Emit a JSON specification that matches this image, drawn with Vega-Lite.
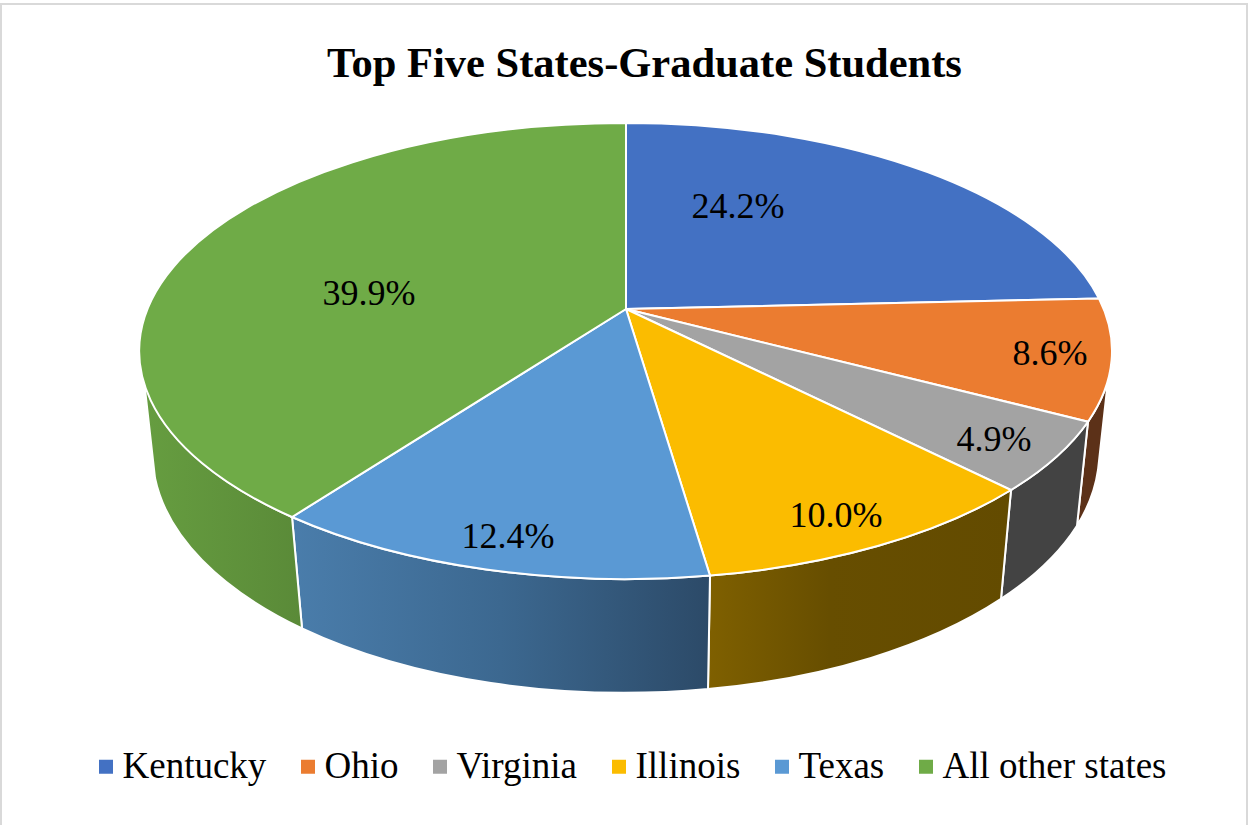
{
"$schema":"https://vega.github.io/schema/vega-lite/v6.json",
"width":1249,"height":825,"padding":0,"autosize":{"type":"none"},"background":"white",
"title":{"text":"Top Five States-Graduate Students","font":"Liberation Serif","fontSize":42.5,"fontWeight":"bold","color":"black","anchor":"middle","dx":20,"dy":89},
"config":{"view":{"stroke":null}},
"data":{"values":[
{"state":"Kentucky","share":0.242},
{"state":"Ohio","share":0.086},
{"state":"Virginia","share":0.049},
{"state":"Illinois","share":0.1},
{"state":"Texas","share":0.124},
{"state":"All other states","share":0.399}]},
"layer":[
{"data":{"values":[{"element":"chart area"}]},
 "mark":{"type":"point","filled":false,"size":4,"stroke":"#d9d9d9","strokeWidth":2,"opacity":1},
 "encoding":{"shape":{"value":"M-623.5,420 L-623.5,-408.5 L622.5,-408.5 L622.5,420"}}},
{"transform":[{"filter":"datum.state==='Ohio'"}],
 "mark":{"type":"point","filled":true,"size":4,"fill":"#5c3118","stroke":"white","strokeWidth":2,"opacity":1},
 "encoding":{"shape":{"value":"M483.5,-32.5 A486,228 0 0 1 463.5,9.2 L452.5,113.2 A474,241 0 0 0 473.5,57.5 Z"}}},
{"transform":[{"filter":"datum.state==='Virginia'"}],
 "mark":{"type":"point","filled":true,"size":4,"fill":"#434343","stroke":"white","strokeWidth":2,"opacity":1},
 "encoding":{"shape":{"value":"M463.5,9.2 A486,228 0 0 1 386.5,77.5 L376.5,186.4 A474,241 0 0 0 452.5,113.2 Z"}}},
{"transform":[{"filter":"datum.state==='Illinois'"}],
 "mark":{"type":"point","filled":true,"size":4,"stroke":"white","strokeWidth":2,"opacity":1,
  "fill":{"x1":0,"y1":0,"x2":1,"y2":0,"gradient":"linear","stops":[{"offset":0,"color":"#7f6000"},{"offset":0.4,"color":"#674e00"},{"offset":1,"color":"#634b00"}]}},
 "encoding":{"shape":{"value":"M386.5,77.5 A486,228 0 0 1 85.5,163.1 L83.5,276.5 A474,241 0 0 0 376.5,186.4 Z"}}},
{"transform":[{"filter":"datum.state==='Texas'"}],
 "mark":{"type":"point","filled":true,"size":4,"stroke":"white","strokeWidth":2,"opacity":1,
  "fill":{"x1":0,"y1":0,"x2":1,"y2":0,"gradient":"linear","stops":[{"offset":0,"color":"#4a7dab"},{"offset":0.5,"color":"#3c6890"},{"offset":1,"color":"#2c4a68"}]}},
 "encoding":{"shape":{"value":"M85.5,163.1 A486,228 0 0 1 -332.5,104.5 L-322.5,215.9 A474,241 0 0 0 83.5,276.5 Z"}}},
{"transform":[{"filter":"datum.state==='All other states'"}],
 "mark":{"type":"point","filled":true,"size":4,"stroke":"white","strokeWidth":2,"opacity":1,
  "fill":{"x1":0,"y1":0,"x2":1,"y2":0,"gradient":"linear","stops":[{"offset":0,"color":"#669d40"},{"offset":1,"color":"#5a8a38"}]}},
 "encoding":{"shape":{"value":"M-332.5,104.5 A486,228 0 0 1 -480.5,-32.5 L-469.5,65.5 A474,241 0 0 0 -322.5,215.9 Z"}}},
{"mark":{"type":"point","filled":true,"size":4,"stroke":"white","strokeWidth":2,"opacity":1},
 "encoding":{
  "color":{"field":"state","type":"nominal","legend":null},
  "shape":{"field":"state","type":"nominal","legend":null,
   "scale":{"domain":["Kentucky","Ohio","Virginia","Illinois","Texas","All other states"],
    "range":[
     "M1.5,-103.5 L1.5,-289.5 A486,228 0 0 1 474.5,-114 Z",
     "M1.5,-103.5 L474.5,-114 A486,228 0 0 1 463.5,9.2 Z",
     "M1.5,-103.5 L463.5,9.2 A486,228 0 0 1 386.5,77.5 Z",
     "M1.5,-103.5 L386.5,77.5 A486,228 0 0 1 85.5,163.1 Z",
     "M1.5,-103.5 L85.5,163.1 A486,228 0 0 1 -332.5,104.5 Z",
     "M1.5,-103.5 L-332.5,104.5 A486,228 0 0 1 1.5,-289.5 Z"]}}}},
{"mark":{"type":"square","filled":true,"size":0,"opacity":1},
 "encoding":{
  "color":{"field":"state","type":"nominal",
   "scale":{"domain":["Kentucky","Ohio","Virginia","Illinois","Texas","All other states"],"range":["#4371c3","#eb7c30","#a3a3a3","#fbbc00","#5a99d4","#6fab47"]},
   "legend":{"title":null,"orient":"none","legendX":87.5,"legendY":748,"direction":"horizontal","columns":6,"symbolType":"square","symbolSize":196,"symbolStrokeWidth":0,"labelFont":"Liberation Serif","labelFontSize":37,"labelColor":"black","labelOffset":-2,"columnPadding":23,"labelLimit":400}}}},
{"mark":{"type":"text","font":"Liberation Serif","fontSize":36,"color":"black","align":"center","baseline":"middle"},
 "encoding":{
  "text":{"field":"share","type":"quantitative","format":".1%"},
  "x":{"field":"share","type":"quantitative","axis":null,"scale":{"domain":[0.049,0.086,0.1,0.124,0.242,0.399],"range":[994,1050,836,508,738,369],"zero":false,"nice":false}},
  "y":{"field":"share","type":"quantitative","axis":null,"scale":{"domain":[0.049,0.086,0.1,0.124,0.242,0.399],"range":[440,354,516,537,207,294],"zero":false,"nice":false}}}}
],
"resolve":{"legend":{"color":"independent"}}
}
